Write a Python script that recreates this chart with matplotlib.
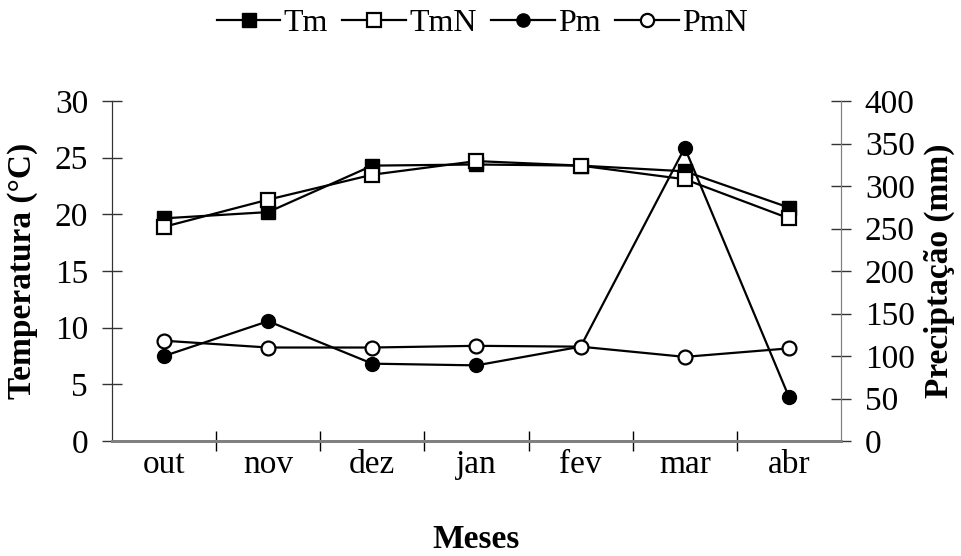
import numpy as np
import matplotlib
matplotlib.use("Agg")
from matplotlib import pyplot as plt
from matplotlib.ticker import FixedLocator

meses = ['out', 'nov', 'dez', 'jan', 'fev', 'mar', 'abr']
tm = [19.65, 20.2, 24.3, 24.4, 24.3, 23.8, 20.6]
tmn = [18.9, 21.3, 23.5, 24.7, 24.3, 23.1, 19.65]
pm = [100, 141, 91, 89, 111, 345, 52]
pmn = [118, 110, 110, 112, 111, 99, 109]

plt.rcParams['font.family'] = ['Liberation Serif', 'DejaVu Serif']
plt.rcParams['font.size'] = 24

fig = plt.figure(figsize=(9.61, 5.56), dpi=100)
ax = fig.add_axes([0.1165, 0.2068, 0.7586, 0.6115])
ax2 = ax.twinx()

x = np.arange(len(meses))
lw = 1.6
ms = 10
l1, = ax.plot(x, tm, '-s', color='black', lw=lw, ms=ms, mfc='black', mec='black', label='Tm', zorder=3)
l2, = ax.plot(x, tmn, '-s', color='black', lw=lw, ms=ms, mfc='white', mec='black', mew=1.6, label='TmN', zorder=3)
l3, = ax2.plot(x, pm, '-o', color='black', lw=lw, ms=ms, mfc='black', mec='black', label='Pm', zorder=3)
l4, = ax2.plot(x, pmn, '-o', color='black', lw=lw, ms=ms, mfc='white', mec='black', mew=1.6, label='PmN', zorder=3)

ax.set_xlim(-0.5, len(meses) - 0.5)
ax.set_ylim(0, 30)
ax2.set_ylim(0, 400)
ax.set_yticks(np.arange(0, 31, 5))
ax2.set_yticks(np.arange(0, 401, 50))

ax.set_xticks(x)
ax.set_xticklabels(meses)
ax.xaxis.set_minor_locator(FixedLocator(np.arange(0.5, len(meses) - 1, 1.0)))
ax.tick_params(axis='x', which='major', length=0, pad=6)
ax.tick_params(axis='x', which='minor', direction='inout', length=14.4, width=1, color='black')
ax.tick_params(axis='y', direction='inout', length=14.4, width=1, pad=10, color='#333333')
ax2.tick_params(axis='y', direction='inout', length=14.4, width=1, pad=10, color='#333333')

for a in (ax, ax2):
    a.spines['top'].set_visible(False)
    a.spines['left'].set_color('#333333')
    a.spines['right'].set_color('#808080')
    a.spines['bottom'].set_color('#808080')
    a.spines['bottom'].set_linewidth(2)
    a.patch.set_visible(False)

fig.text(0.023, 0.5125, 'Temperatura (°C)', rotation=90, ha='center', va='center',
         fontweight='bold', fontsize=24)
fig.text(0.978, 0.5125, 'Precipta\u00e7\u00e3o (mm)', rotation=90, ha='center', va='center',
         fontweight='bold', fontsize=24)
fig.text(0.4958, 0.03, 'Meses', ha='center', va='center', fontweight='bold', fontsize=24)

fig.legend(handles=[l1, l2, l3, l4], loc='center', bbox_to_anchor=(0.502, 0.958), ncol=4,
           frameon=False, handlelength=2.0, handletextpad=0.1, columnspacing=0.45,
           fontsize=23, markerscale=0.95)

fig.savefig('out.png', dpi=100)
